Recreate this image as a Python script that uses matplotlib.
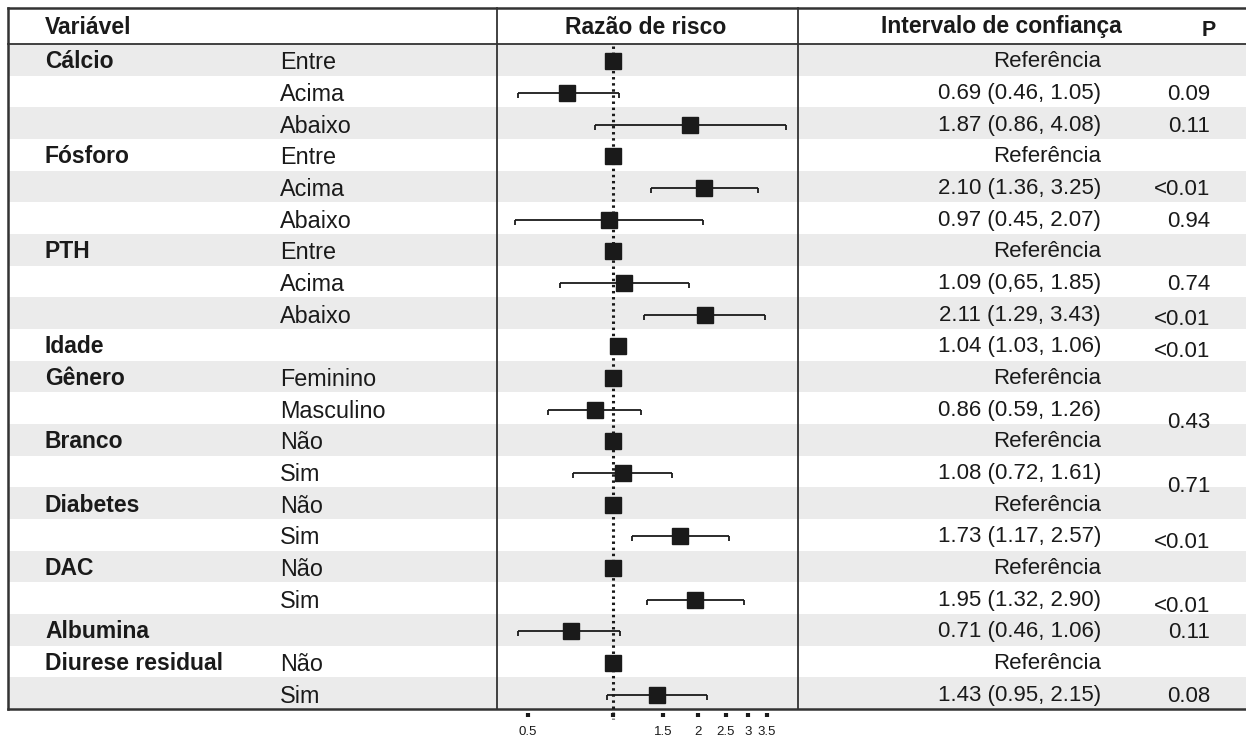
import numpy as np
import matplotlib.pyplot as plt
from matplotlib.ticker import NullLocator, FixedLocator, FixedFormatter

plt.rcParams['font.family'] = ['Liberation Sans', 'DejaVu Sans']

# table content, one entry per row
variables = ["Cálcio", "", "", "Fósforo", "", "", "PTH", "", "", "Idade",
             "Gênero", "", "Branco", "", "Diabetes", "", "DAC", "",
             "Albumina", "Diurese residual", ""]
levels = ["Entre", "Acima", "Abaixo", "Entre", "Acima", "Abaixo", "Entre",
          "Acima", "Abaixo", "", "Feminino", "Masculino", "Não", "Sim",
          "Não", "Sim", "Não", "Sim", "", "Não", "Sim"]
rr = [1, 0.69, 1.87, 1, 2.10, 0.97, 1, 1.09, 2.11, 1.04, 1, 0.86, 1, 1.08,
      1, 1.73, 1, 1.95, 0.71, 1, 1.43]
ci_low = [np.nan, 0.46, 0.86, np.nan, 1.36, 0.45, np.nan, 0.65, 1.29, 1.03,
          np.nan, 0.59, np.nan, 0.72, np.nan, 1.17, np.nan, 1.32, 0.46,
          np.nan, 0.95]
ci_high = [np.nan, 1.05, 4.08, np.nan, 3.25, 2.07, np.nan, 1.85, 3.43, 1.06,
           np.nan, 1.26, np.nan, 1.61, np.nan, 2.57, np.nan, 2.90, 1.06,
           np.nan, 2.15]
ci_labels = ["Referência", "0.69 (0.46, 1.05)", "1.87 (0.86, 4.08)",
             "Referência", "2.10 (1.36, 3.25)", "0.97 (0.45, 2.07)",
             "Referência", "1.09 (0,65, 1.85)", "2.11 (1.29, 3.43)",
             "1.04 (1.03, 1.06)", "Referência", "0.86 (0.59, 1.26)",
             "Referência", "1.08 (0.72, 1.61)", "Referência",
             "1.73 (1.17, 2.57)", "Referência", "1.95 (1.32, 2.90)",
             "0.71 (0.46, 1.06)", "Referência", "1.43 (0.95, 2.15)"]
p_values = ["", "0.09", "0.11", "", "<0.01", "0.94", "", "0.74", "<0.01",
            "<0.01", "", "0.43", "", "0.71", "", "<0.01", "", "<0.01",
            "0.11", "", "0.08"]
tick_values = [0.5, 1, 1.5, 2, 2.5, 3, 3.5]
tick_labels = ["0.5", "", "1.5", "2", "2.5", "3", "3.5"]

# layout in pixels
W, H = 1246, 740
frame_left, frame_top, head_bottom, frame_bottom = 8, 8, 44, 709
div1, div2 = 497, 798
n = len(rr)
row_h = (frame_bottom - head_bottom) / n
p_nudge = {8: 4, 9: 5, 11: 12, 13: 13, 15: 6, 17: 6}
ink = '#1a1a1a'
fs_level = 16.8
fs_num = 16
fs_bold = 16.5

fig = plt.figure(figsize=(W / 100, H / 100), dpi=100)
bg = fig.add_axes([0, 0, 1, 1])
bg.set_xlim(0, W)
bg.set_ylim(H, 0)
bg.axis('off')

for i in range(n):
    if i % 2 == 0:
        y0 = head_bottom + i * row_h
        bg.fill_between([frame_left, W], y0, y0 + row_h, color='#ebebeb', lw=0)

lc = '#333333'
bg.plot([frame_left, W], [frame_top, frame_top], color=lc, lw=1.8)
bg.plot([frame_left, W], [head_bottom, head_bottom], color=lc, lw=1.3)
bg.plot([frame_left, W], [frame_bottom, frame_bottom], color=lc, lw=1.8)
bg.plot([frame_left, frame_left], [frame_top, frame_bottom], color=lc, lw=1.8)
for xd in (div1, div2):
    bg.plot([xd, xd], [frame_top, frame_bottom], color=lc, lw=1.3)

hy = (frame_top + head_bottom) / 2 + 1
bg.text(45, hy, "Variável", fontsize=fs_bold, fontweight='bold', va='center',
        color=ink)
bg.text(646, hy, "Razão de risco", fontsize=fs_bold, fontweight='bold',
        va='center', ha='center', color=ink)
bg.text(1001, hy, "Intervalo de confiança", fontsize=fs_bold,
        fontweight='bold', va='center', ha='center', color=ink)
bg.text(1209, hy + 3, "P", fontsize=fs_bold - 1, fontweight='bold',
        va='center', ha='center', color=ink)

for i in range(n):
    yc = head_bottom + (i + 0.5) * row_h + 2
    if variables[i]:
        bg.text(45, yc, variables[i], fontsize=fs_bold, fontweight='bold',
                va='center', color=ink)
    if levels[i]:
        bg.text(280, yc + 1, levels[i], fontsize=fs_level, va='center',
                color=ink)
    bg.text(1101, yc, ci_labels[i], fontsize=fs_num, va='center', ha='right',
            color=ink)
    if p_values[i]:
        bg.text(1210, yc + p_nudge.get(i, 1), p_values[i], fontsize=fs_num,
                va='center', ha='right', color=ink)

# forest panel
ax = fig.add_axes([div1 / W, 1 - frame_bottom / H, (div2 - div1) / W,
                   (frame_bottom - head_bottom) / H])
ax.patch.set_alpha(0)
ax.set_xscale('log')
ax.set_xlim(0.389, 4.50)
ax.set_ylim(n - 0.5, -0.5)
ys = np.arange(n)

for y, lo, hi in zip(ys, ci_low, ci_high):
    if np.isnan(lo):
        continue
    ax.hlines(y + 0.05, lo, hi, color=ink, lw=1.3)
    ax.vlines([lo, hi], y + 0.05, y + 0.2, color=ink, lw=1.3)

ax.plot([1, 1], [-0.45, n - 0.5 + 0.3], color=ink, lw=2.2,
        ls=(0, (0.8, 1.2)), clip_on=False, zorder=1)
ax.plot(rr, ys + 0.05, 's', ms=11, color=ink, zorder=3)

for side in ('top', 'left', 'right'):
    ax.spines[side].set_visible(False)
ax.spines['bottom'].set_position(('outward', 3))
ax.spines['bottom'].set_visible(False)
ax.yaxis.set_visible(False)
ax.xaxis.set_major_locator(FixedLocator(tick_values))
ax.xaxis.set_major_formatter(FixedFormatter(tick_labels))
ax.xaxis.set_minor_locator(NullLocator())
ax.tick_params(axis='x', direction='out', length=3, width=3, pad=6,
               labelsize=9.5, color=ink, labelcolor=ink)

fig.savefig('out.png', dpi=100)
